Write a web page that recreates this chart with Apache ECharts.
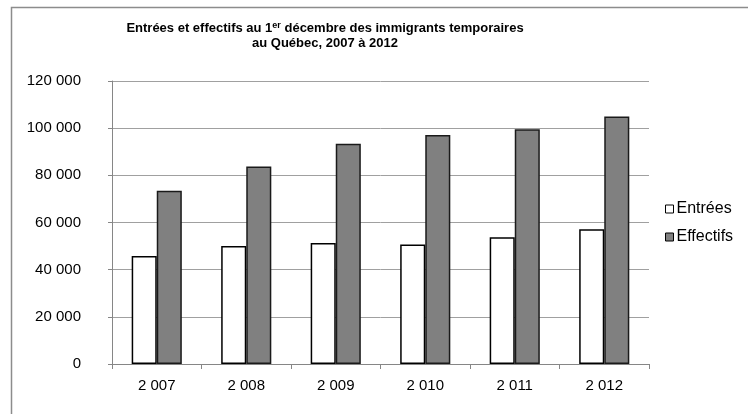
<!DOCTYPE html>
<html>
<head>
<meta charset="utf-8">
<script src="https://cdn.jsdelivr.net/npm/echarts@6/dist/echarts.min.js"></script>
<style>
  html, body { margin: 0; padding: 0; background: #fff; }
  #chart { width: 748px; height: 414px; }
</style>
</head>
<body>
<div id="chart"></div>
<script>
// Années
const years = ['2007', '2008', '2009', '2010', '2011', '2012']
// Entrées et effectifs
const entrees = [45800, 50000, 51300, 50700, 53700, 57100]
const effectifs = [73500, 83700, 93400, 97100, 99500, 104900]
const seriesNames = ['Entrées', 'Effectifs']

const FONT = '"Liberation Sans", Arial, sans-serif'

// 120000 -> "120 000"
function spaced(v) {
  return String(v).replace(/\B(?=(\d{3})+(?!\d))/g, ' ')
}

const chart = echarts.init(document.getElementById('chart'))

chart.setOption({
  animation: false,
  backgroundColor: '#fff',
  textStyle: { fontFamily: FONT },
  graphic: [
    {
      type: 'rect',
      silent: true,
      shape: { x: 11.5, y: 7.5, width: 800, height: 500 },
      style: { fill: 'none', stroke: '#8c8c8c', lineWidth: 1.5 }
    },
    {
      type: 'text',
      silent: true,
      style: {
        x: 325,
        y: 21,
        align: 'center',
        text: '{a|Entrées et effectifs au 1}{s|er}{a| décembre des immigrants temporaires}\n{a|au Québec, 2007 à 2012}',
        fill: '#000',
        rich: {
          a: { fontFamily: FONT, fontWeight: 'bold', fontSize: 13, lineHeight: 15, fill: '#000' },
          s: { fontFamily: FONT, fontWeight: 'bold', fontSize: 9, lineHeight: 15, padding: [0, 0, 5, 0], fill: '#000' }
        }
      }
    }
  ],
  legend: {
    orient: 'vertical',
    left: 660,
    top: 196,
    itemWidth: 8,
    itemHeight: 8,
    itemGap: 12,
    icon: 'rect',
    data: seriesNames,
    textStyle: { fontFamily: FONT, fontSize: 16, color: '#000', padding: [0, 0, 0, -2] },
    itemStyle: { borderColor: '#000', borderWidth: 1 }
  },
  grid: {
    left: 112,
    right: 99,
    top: 81,
    bottom: 50,
    containLabel: false
  },
  xAxis: {
    type: 'category',
    data: years,
    axisLine: { lineStyle: { color: '#868686', width: 1 } },
    axisTick: { show: true, alignWithLabel: false, length: 5, lineStyle: { color: '#868686' } },
    axisLabel: {
      fontFamily: FONT,
      fontSize: 15,
      color: '#000',
      margin: 14,
      formatter: v => spaced(v)
    }
  },
  yAxis: {
    type: 'value',
    min: 0,
    max: 120000,
    interval: 20000,
    axisLine: { show: true, lineStyle: { color: '#868686', width: 1 } },
    axisTick: { show: true, length: 4, lineStyle: { color: '#868686' } },
    splitLine: { lineStyle: { color: '#a0a0a0', width: 1 } },
    axisLabel: {
      fontFamily: FONT,
      fontSize: 15,
      color: '#000',
      margin: 31,
      formatter: v => spaced(v)
    }
  },
  series: [
    {
      name: seriesNames[0],
      type: 'bar',
      data: entrees,
      barGap: '0%',
      barCategoryGap: '44%',
      itemStyle: { color: '#fff', borderColor: '#000', borderWidth: 1.5 }
    },
    {
      name: seriesNames[1],
      type: 'bar',
      data: effectifs,
      barGap: '0%',
      barCategoryGap: '44%',
      itemStyle: { color: '#808080', borderColor: '#1a1a1a', borderWidth: 1.5 }
    }
  ]
})
</script>
</body>
</html>
